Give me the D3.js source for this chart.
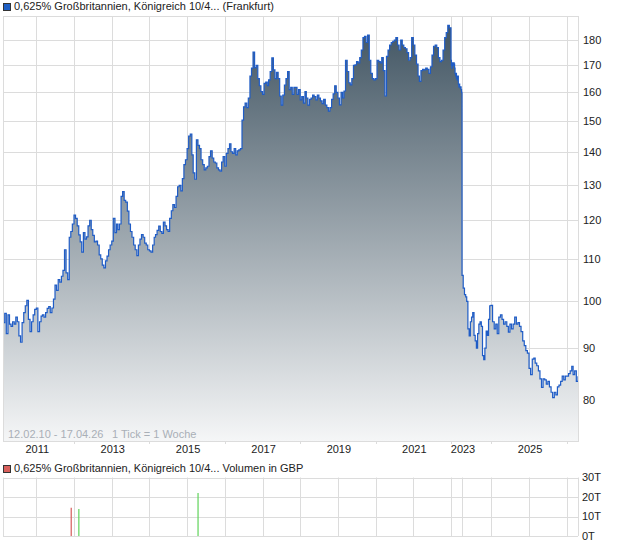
<!DOCTYPE html>
<html>
<head>
<meta charset="utf-8">
<script src="https://cdn.jsdelivr.net/npm/d3@7"></script>
<style>
  body { margin: 0; background: #fff; }
  svg { display: block; font-family: "Liberation Sans", Arial, sans-serif; }
</style>
</head>
<body>
<svg width="620" height="546"></svg>
<script>
const title = "0,625% Großbritannien, Königreich 10/4... (Frankfurt)"
const volumeTitle = "0,625% Großbritannien, Königreich 10/4... Volumen in GBP"
const rangeNote = "12.02.10 - 17.04.26"
const tickNote = "1 Tick = 1 Woche"
const startDay = "2010-02-12"
const endDay = "2026-04-17"

// closes on the 1st and 16th of each month
const p2010 = [92, 95.3, 97.3, 93, 97, 95, 94.5, 95.5, 95, 96.5, 95.5, 92.5, 91.2, 95.3, 97.5, 99, 100.2, 96, 93.4, 95.5, 97, 98.2]
const p2011 = [98.5, 93.4, 95.5, 96.7, 97, 96.5, 97.5, 98.4, 98.8, 97.5, 98.5, 100.5, 103.7, 102.5, 105, 104.4, 105.8, 107.2, 112.3, 106.6, 105, 115.5, 117, 119]
const p2012 = [121.4, 120.5, 118.5, 116.1, 114.3, 111.7, 116.7, 115, 115.6, 118.5, 120, 117.5, 116, 114.3, 114.5, 113.5, 111, 110, 108.5, 107.8, 109.5, 110.7, 112.3, 113.5]
const p2013 = [114.5, 120.5, 116.7, 119, 117.5, 119, 126.6, 128, 125.5, 125, 122.5, 119, 117, 115.5, 113.5, 112.3, 110.8, 113.5, 115, 116.2, 115.5, 114, 113.5, 112.3]
const p2014 = [112, 111.7, 113.5, 115.5, 116.2, 117.3, 118.4, 117, 116.5, 119.5, 118.5, 117.5, 117, 120.5, 122.6, 124.3, 123.5, 126.6, 129.4, 129.8, 128.2, 131.8, 136, 137.5]
const p2015 = [141, 145, 145.7, 139, 133.5, 131.6, 143.8, 142, 141, 137.5, 136, 134.4, 135, 135.5, 138.5, 140.3, 138, 136.8, 136.5, 135, 134.4, 134, 136.8, 138.5]
const p2016 = [135.5, 139.5, 141, 142.5, 140, 139.5, 141, 139, 140.3, 140.6, 141, 150.3, 154.9, 156.2, 154.6, 158, 166, 169, 175.2, 169.2, 170, 165, 162.4, 160.3]
const p2017 = [159.3, 163.3, 163.7, 162.4, 164.6, 167.7, 172.9, 168.3, 165, 167.4, 165, 158.7, 155.5, 159, 162.6, 165, 167.7, 161, 161.8, 159.3, 161.8, 161.8, 159.3, 161]
const p2018 = [157.3, 158.5, 156.2, 160.3, 158, 155.5, 157.5, 158, 159, 158.5, 157.3, 159, 158, 157, 156, 157.5, 155.5, 154.6, 153.4, 154.6, 157.5, 159.5, 162.4, 160]
const p2019 = [158, 155.6, 160, 158, 160.5, 172, 167.7, 163.5, 162.7, 165, 170, 170.2, 171.5, 171, 173, 176, 181, 181.5, 179, 182, 172, 167, 165, 164.6]
const p2020 = [165, 172, 171.5, 171, 173, 168, 158.7, 173.5, 176, 178, 179, 179.5, 180, 181, 178, 176, 180, 178, 177, 176.5, 175, 172, 173, 181]
const p2021 = [178, 174, 170.5, 166, 164, 168, 168.5, 168.3, 169, 168.5, 167, 169.5, 174, 177.5, 178, 177, 173, 171.5, 172, 176, 181, 183, 186, 185]
const p2022 = [172, 170, 169, 171, 170.5, 170, 171, 170.5, 169, 167, 166, 167, 165, 166, 164.5, 166, 163, 162, 163, 162, 161.5, 162, 161, 160]
const p2023 = [106, 103, 101.5, 101, 100, 94, 92.5, 95.5, 96.5, 97.5, 92.6, 91.5, 90, 93, 95, 95.5, 94.5, 88.5, 87.7, 90, 93.5, 92.6, 96, 99]
const p2024 = [99.1, 95.5, 94, 95, 93, 96.5, 97, 96, 95, 95.5, 94.5, 93.3, 95, 94, 95, 96.5, 95, 95.3, 94.5, 93.4, 91.5, 90.5, 89.5, 89]
const p2025 = [86, 84.8, 87.8, 88, 87, 86.5, 85.5, 84, 82.4, 84, 83.8, 83, 83.5, 82.5, 81.5, 80.5, 81.5, 81, 82.5, 82.8, 83.5, 84.5, 83.8, 84.5]
const p2026 = [84.5, 85, 85.5, 86.4, 84.8, 85.5, 83.5, 84.5]

const priceTicks = [80, 90, 100, 110, 120, 130, 140, 150, 160, 170, 180]
const gridYears = [2011, 2012, 2013, 2014, 2015, 2016, 2017, 2018, 2019, 2020, 2021, 2022, 2023, 2024, 2025, 2026]
const labelYears = [2011, 2013, 2015, 2017, 2019, 2021, 2023, 2025]

const volDates = ["2011-12-05", "2012-02-17", "2015-04-17"]
const volValues = [14500, 13800, 22000]
const volUp = [false, true, true]
const volTicks = [0, 10000, 20000, 30000]

// the axis counts weekly ticks, so thinly traded stretches are squeezed
const xBreakDates = ["2010-02-12", "2022-01-01", "2023-01-01", "2024-01-01", "2026-04-17"]
const xBreakShare = [0, 0.7791, 0.7983, 0.8487, 1]

const parse = d3.timeParse("%Y-%m-%d")
const svg = d3.select("svg")

const plotLeft = 3, plotRight = 578
const plotTop = 16, plotBottom = 441
const volTop = 477.5, volBottom = 536

const x = d3.scaleTime()
  .domain(xBreakDates.map(parse))
  .range(xBreakShare.map(s => plotLeft + s * (plotRight - plotLeft)))
const y = d3.scaleLog().domain([73.03, 190]).range([plotBottom, plotTop])
const yv = d3.scaleLinear().domain([0, 30000]).range([volBottom, volTop])

const start = parse(startDay), end = parse(endDay)
const years = [[2010, p2010], [2011, p2011], [2012, p2012], [2013, p2013], [2014, p2014],
  [2015, p2015], [2016, p2016], [2017, p2017], [2018, p2018], [2019, p2019], [2020, p2020],
  [2021, p2021], [2022, p2022], [2023, p2023], [2024, p2024], [2025, p2025], [2026, p2026]]
const data = []
years.forEach(([yr, vals], k) => {
  const off = k == 0 ? 24 - vals.length : 0
  vals.forEach((v, i) => {
    const j = i + off
    let d = new Date(yr, Math.floor(j / 2), j % 2 ? 16 : 1)
    if (d < start) d = start
    if (d > end || (k == years.length - 1 && i == vals.length - 1)) d = end
    data.push({ date: d, value: v })
  })
})

const grid = "#dcdcdc"
const yearX = d => Math.round(x(new Date(d, 0, 1))) + 0.5

// legend rows
function legendRow(yy, fill, text) {
  svg.append("rect").attr("x", 3.5).attr("y", yy - 6.5).attr("width", 7).attr("height", 7)
    .attr("fill", fill).attr("stroke", "#333").attr("stroke-width", 1)
  svg.append("text").attr("x", 14).attr("y", yy).attr("font-size", 11).attr("fill", "#222").text(text)
}
legendRow(10, "#1f5fc4", title)
legendRow(472, "#d9605c", volumeTitle)

// main grid
const g = svg.append("g")
g.selectAll(".hy").data(priceTicks).enter().append("line")
  .attr("x1", plotLeft).attr("x2", plotRight)
  .attr("y1", d => Math.round(y(d)) + 0.5).attr("y2", d => Math.round(y(d)) + 0.5)
  .attr("stroke", grid)
g.selectAll(".vx").data(gridYears).enter().append("line")
  .attr("x1", yearX).attr("x2", yearX)
  .attr("y1", plotTop).attr("y2", d => labelYears.includes(d) ? plotBottom : plotBottom + 3)
  .attr("stroke", grid)

const defs = svg.append("defs")
const grad = defs.append("linearGradient").attr("id", "fade")
  .attr("gradientUnits", "userSpaceOnUse")
  .attr("x1", 0).attr("x2", 0).attr("y1", plotTop).attr("y2", plotBottom)
grad.append("stop").attr("offset", 0).attr("stop-color", "#3e5260")
grad.append("stop").attr("offset", 1).attr("stop-color", "#f5f6f7")

defs.append("clipPath").attr("id", "plot").append("rect")
  .attr("x", plotLeft).attr("y", plotTop).attr("width", plotRight - plotLeft).attr("height", plotBottom - plotTop)

// weekly ticks are drawn as steps in the original
const area = d3.area().curve(d3.curveStepAfter).x(d => x(d.date)).y0(plotBottom).y1(d => y(d.value))
const line = d3.line().curve(d3.curveStepAfter).x(d => x(d.date)).y(d => y(d.value))

const p = svg.append("g").attr("clip-path", "url(#plot)")
p.append("path").datum(data).attr("d", area).attr("fill", "url(#fade)")
p.append("path").datum(data).attr("d", line)
  .attr("fill", "none").attr("stroke", "#1f5cc6").attr("stroke-width", 1.2)

svg.append("text").attr("x", 8).attr("y", 438).attr("font-size", 11).attr("fill", "#a9afb7").text(rangeNote)
svg.append("text").attr("x", 112).attr("y", 438).attr("font-size", 11).attr("fill", "#a9afb7").text(tickNote)

svg.append("rect").attr("x", plotLeft + 0.5).attr("y", plotTop + 0.5)
  .attr("width", plotRight - plotLeft).attr("height", plotBottom - plotTop)
  .attr("fill", "none").attr("stroke", grid)

// axis labels
svg.selectAll(".ylab").data(priceTicks).enter().append("text")
  .attr("x", 583).attr("y", d => y(d)).attr("dy", "0.36em")
  .attr("font-size", 11).attr("fill", "#222").text(d => d)
svg.selectAll(".xlab").data(labelYears).enter().append("text")
  .attr("x", d => x(new Date(d, 0, 1)) + 1).attr("y", 453)
  .attr("text-anchor", "middle").attr("font-size", 11).attr("fill", "#222").text(d => d)

// volume panel
const vg = svg.append("g")
vg.selectAll(".vh").data(volTicks).enter().append("line")
  .attr("x1", plotLeft).attr("x2", plotRight)
  .attr("y1", d => Math.round(yv(d)) + 0.5).attr("y2", d => Math.round(yv(d)) + 0.5)
  .attr("stroke", grid)
vg.selectAll(".vv").data(gridYears).enter().append("line")
  .attr("x1", yearX).attr("x2", yearX)
  .attr("y1", volTop).attr("y2", volBottom)
  .attr("stroke", grid)
vg.append("line").attr("x1", plotLeft + 0.5).attr("x2", plotLeft + 0.5).attr("y1", volTop).attr("y2", volBottom).attr("stroke", grid)
vg.append("line").attr("x1", plotRight + 0.5).attr("x2", plotRight + 0.5).attr("y1", volTop).attr("y2", volBottom).attr("stroke", grid)

vg.selectAll(".bar").data(volDates).enter().append("line")
  .attr("x1", d => x(parse(d))).attr("x2", d => x(parse(d)))
  .attr("y1", volBottom).attr("y2", (d, i) => yv(volValues[i]))
  .attr("stroke", (d, i) => volUp[i] ? "#5fd35a" : "#d65a5a").attr("stroke-width", 1.2)

vg.selectAll(".vlab").data(volTicks).enter().append("text")
  .attr("x", 582).attr("y", d => yv(d)).attr("dy", "0.36em")
  .attr("font-size", 11).attr("fill", "#222").text(d => (d / 1000) + "T")
</script>
</body>
</html>
